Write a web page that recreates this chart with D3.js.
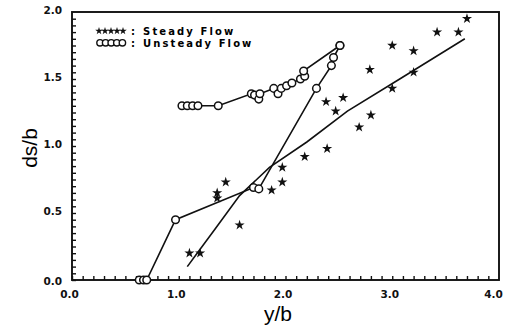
<!DOCTYPE html>
<html>
<head>
<meta charset="utf-8">
<script src="https://cdn.jsdelivr.net/npm/d3@7"></script>
<style>
  body { margin: 0; background: #fff; }
  .tick text { font-family: "DejaVu Sans", sans-serif; font-weight: bold; font-size: 10.5px; }
  .lgd { font-family: "DejaVu Sans", sans-serif; font-weight: bold; font-size: 10px; letter-spacing: 2.1px; }
  .aText { font-family: "Liberation Sans", Arial, sans-serif; font-size: 21px; }
</style>
</head>
<body>
<div id="chart"></div>
<script>
// values
var xTicks = [0, 1, 2, 3, 4];
var yTicks = [0, 0.5, 1.0, 1.5, 2.0];

// steady flow points (stars)
var steadyX = [1.10, 1.20, 1.36, 1.36, 1.44, 1.57, 1.87, 1.97, 1.97, 2.18, 2.39, 2.38, 2.47, 2.54, 2.69, 2.80, 2.79, 3.00, 3.00, 3.20, 3.20, 3.42, 3.62, 3.70];
var steadyY = [0.20, 0.20, 0.65, 0.61, 0.73, 0.41, 0.67, 0.73, 0.84, 0.92, 0.98, 1.33, 1.26, 1.36, 1.14, 1.23, 1.57, 1.43, 1.75, 1.71, 1.55, 1.85, 1.85, 1.95];

// steady flow curve
var fitX = [1.08, 1.33, 1.57, 1.85, 2.20, 2.58, 3.07, 3.68];
var fitY = [0.10, 0.37, 0.63, 0.84, 1.03, 1.26, 1.50, 1.80];

// unsteady flow, upper branch (circles)
var upperX = [1.03, 1.08, 1.13, 1.18, 1.37, 1.68, 1.71, 1.75, 1.76, 1.89, 1.93, 1.96, 2.01, 2.06, 2.14, 2.18, 2.17, 2.51];
var upperY = [1.30, 1.30, 1.30, 1.30, 1.30, 1.39, 1.38, 1.35, 1.39, 1.43, 1.39, 1.43, 1.45, 1.47, 1.50, 1.52, 1.56, 1.75];

// unsteady flow, lower branch (circles)
var lowerX = [0.63, 0.67, 0.70, 0.97, 1.70, 1.75, 2.29, 2.43, 2.45, 2.51];
var lowerY = [0.00, 0.00, 0.00, 0.45, 0.69, 0.68, 1.43, 1.60, 1.66, 1.75];

var legendNames = ["Steady Flow", "Unsteady Flow"];

var svgWidth = 514;
var svgHeight = 334;
var margin = { top: 12, right: 15, bottom: 54, left: 72 };
var width = svgWidth - margin.left - margin.right;
var height = svgHeight - margin.top - margin.bottom;

var svg = d3.select("#chart")
    .append("svg")
    .attr("width", svgWidth)
    .attr("height", svgHeight);

var plot = svg.append("g")
    .attr("transform", `translate(${margin.left}, ${margin.top})`);

var xScale = d3.scaleLinear().domain([0, 4]).range([0, width]);
var yScale = d3.scaleLinear().domain([0, 2]).range([height, 0]);

// frame
plot.append("rect")
    .attr("width", width)
    .attr("height", height)
    .attr("fill", "none")
    .attr("stroke", "#111")
    .attr("stroke-width", 1.9);

// minor ticks pointing inward
plot.append("g")
    .attr("transform", `translate(0, ${height})`)
    .call(d3.axisTop(xScale).tickValues(d3.range(0, 40).map(i => i / 10)).tickSize(4).tickFormat(""))
    .call(g => g.select(".domain").remove())
    .selectAll("line").attr("stroke", "#111").attr("stroke-width", 1.4);

plot.append("g")
    .call(d3.axisRight(yScale).tickValues(d3.range(0, 40).map(i => i / 20)).tickSize(4).tickFormat(""))
    .call(g => g.select(".domain").remove())
    .selectAll("line").attr("stroke", "#111").attr("stroke-width", 1.4);

// tick labels
var xAxis = plot.append("g")
    .attr("transform", `translate(0, ${height})`)
    .call(d3.axisBottom(xScale).tickValues(xTicks).tickSize(0).tickPadding(11).tickFormat(d3.format(".1f")));
xAxis.select(".domain").remove();
xAxis.selectAll("text").attr("fill", "#111").attr("dx", (d, i) => i == 4 ? -6 : -3);

var yAxis = plot.append("g")
    .call(d3.axisLeft(yScale).tickValues(yTicks).tickSize(0).tickPadding(10).tickFormat(d3.format(".1f")));
yAxis.select(".domain").remove();
yAxis.selectAll("text").attr("fill", "#111").attr("dy", (d, i) => i == 0 ? "0.45em" : "0.1em");

// axis labels
svg.append("text")
    .attr("class", "aText")
    .attr("x", 278)
    .attr("y", 321)
    .attr("text-anchor", "middle")
    .text("y/b");

svg.append("text")
    .attr("class", "aText")
    .attr("transform", "translate(37, 148) rotate(-90)")
    .attr("text-anchor", "middle")
    .text("ds/b");

var line = d3.line()
    .x(d => xScale(d[0]))
    .y(d => yScale(d[1]));

var fitData = fitX.map((x, i) => [x, fitY[i]]);
var upperData = upperX.map((x, i) => [x, upperY[i]]);
var lowerData = lowerX.map((x, i) => [x, lowerY[i]]);
var steadyData = steadyX.map((x, i) => [x, steadyY[i]]);

[fitData, upperData, lowerData].forEach(function(data) {
    plot.append("path")
        .datum(data)
        .attr("d", line)
        .attr("fill", "none")
        .attr("stroke", "#111")
        .attr("stroke-width", 1.6);
});

// circles
plot.selectAll(".unsteady")
    .data(upperData.concat(lowerData))
    .enter()
    .append("circle")
    .attr("class", "unsteady")
    .attr("cx", d => xScale(d[0]))
    .attr("cy", d => yScale(d[1]))
    .attr("r", 3.8)
    .attr("fill", "#fff")
    .attr("stroke", "#111")
    .attr("stroke-width", 1.5);

// stars
var star = d3.symbol().type(d3.symbolStar).size(32);
plot.selectAll(".steady")
    .data(steadyData)
    .enter()
    .append("path")
    .attr("class", "steady")
    .attr("d", star)
    .attr("transform", d => `translate(${xScale(d[0])}, ${yScale(d[1])})`)
    .attr("fill", "#111");

// legend
var rowY = [31, 42.8];
var legend = svg.append("g");
legend.selectAll(".lstar")
    .data(d3.range(5))
    .enter()
    .append("path")
    .attr("d", d3.symbol().type(d3.symbolStar).size(18))
    .attr("transform", d => `translate(${99 + d * 6}, ${rowY[0]})`)
    .attr("fill", "#111");

legend.selectAll(".lcirc")
    .data(d3.range(5))
    .enter()
    .append("circle")
    .attr("cx", d => 100 + d * 5.6)
    .attr("cy", rowY[1])
    .attr("r", 3.2)
    .attr("fill", "#fff")
    .attr("stroke", "#111")
    .attr("stroke-width", 1.4);

legendNames.forEach(function(name, i) {
    var t = legend.append("text").attr("class", "lgd").attr("x", 131).attr("y", rowY[i] + 3.7);
    t.append("tspan").text(":");
    t.append("tspan").attr("dx", 6).text(name);
});
</script>
</body>
</html>
